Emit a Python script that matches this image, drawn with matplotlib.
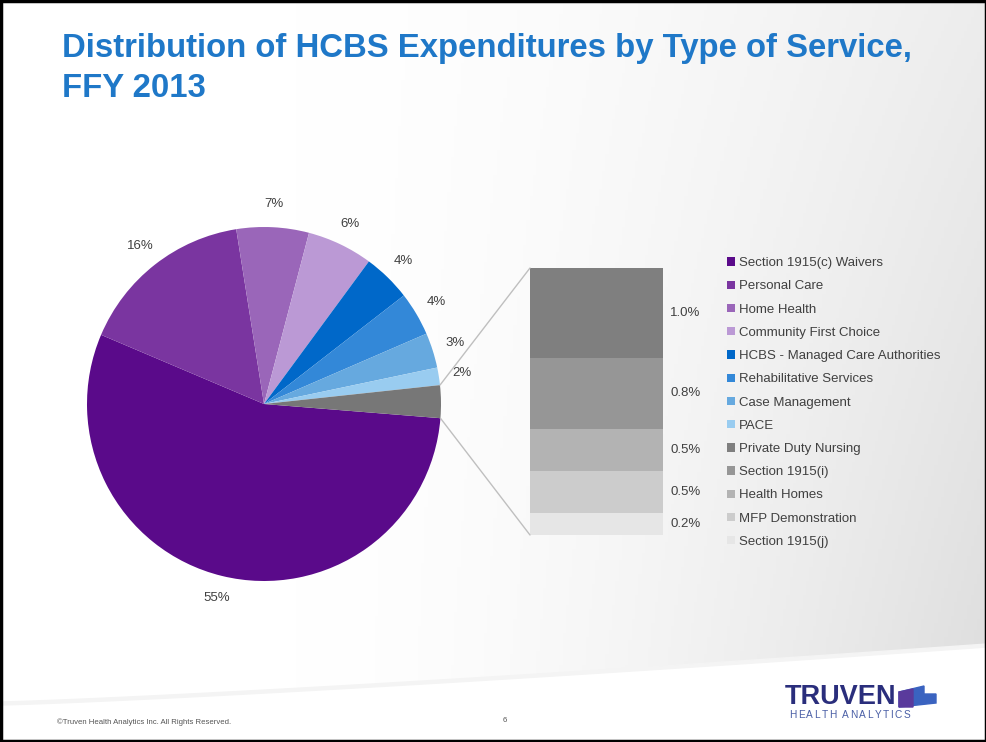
import numpy as np
import matplotlib
matplotlib.use("Agg")
import matplotlib.pyplot as plt
from matplotlib import patches
from matplotlib.patches import ConnectionPatch

plt.rcParams['font.family'] = ['Liberation Sans', 'DejaVu Sans']

# pie part (clockwise from the right edge); last wedge is the "other" group split out into the bar
pie_names = ['Section 1915(c) Waivers', 'Personal Care', 'Home Health', 'Community First Choice',
             'HCBS - Managed Care Authorities', 'Rehabilitative Services', 'Case Management', 'PACE']
pie_values = [55.1, 16.1, 6.6, 6.0, 4.4, 4.0, 3.2, 1.6]
pie_colors = ['#5a0a8a', '#7a35a0', '#9a66b9', '#bb99d5', '#0068c9', '#3388d8', '#66a9df', '#99ccf0']
other_color = '#777777'

# bar part, top to bottom
bar_names = ['Private Duty Nursing', 'Section 1915(i)', 'Health Homes', 'MFP Demonstration', 'Section 1915(j)']
bar_values = [1.0, 0.8, 0.47, 0.47, 0.24]
bar_colors = ['#7f7f7f', '#969696', '#b3b3b3', '#cccccc', '#e6e6e6']

txt = '#404040'
W, H = 987, 742
fig = plt.figure(figsize=(W / 100, H / 100), dpi=100)
fig.patch.set_facecolor('white')

# slide background: soft grey shading on the right and a white sweep at the bottom
bg = fig.add_axes([0, 0, 1, 1], zorder=-10)
bg.set_xlim(0, W)
bg.set_ylim(H, 0)
bg.axis('off')
gx, gy = np.meshgrid(np.linspace(0, 1, 300), np.linspace(0, 1, 200))
shade = np.clip((gx - 0.3) / 0.7, 0, 1) ** 1.6 * (0.55 + 0.45 * gy)
img = np.dstack([1 - shade * 0.13] * 3)
bg.imshow(img, extent=[0, W, 700, 0], aspect='auto', zorder=0)
sx = np.linspace(0, W, 100)
sy = 705 - 58 * (sx / W) ** 1.2
bg.fill_between(sx, sy, H, color='white', zorder=1)
bg.fill_between(sx, sy - 3, sy, color='#f4f4f4', zorder=1)
bg.add_patch(patches.Rectangle((1, 1), W - 2, H - 2, fill=False, edgecolor='black', lw=2.5, zorder=5))

# title
fig.text(62 / W, 1 - 33 / H, 'Distribution of HCBS Expenditures by Type of Service,\nFFY 2013',
         ha='left', va='top', fontsize=23.7, fontweight='bold', color='#1f78c8', linespacing=1.36)

# pie
cx, cy, R = 264, 404, 177
half = 1.25 * R
ax = fig.add_axes([(cx - half) / W, (H - cy - half) / H, 2 * half / W, 2 * half / H])
values = pie_values + [sum(bar_values)]
colors = pie_colors + [other_color]
wedges, _, autotexts = ax.pie(values, colors=colors, startangle=-4.6, counterclock=False,
                              autopct='%.0f%%', pctdistance=1.13,
                              textprops=dict(color=txt, fontsize=9.5))
autotexts[-1].set_visible(False)
ax.set_xlim(-1.25, 1.25)
ax.set_ylim(-1.25, 1.25)
ax.set_aspect('equal')

# bar of the split-out group
bx0, bx1, by0, by1 = 530, 663, 268, 535
bax = fig.add_axes([bx0 / W, (H - by1) / H, (bx1 - bx0) / W, (by1 - by0) / H])
total = sum(bar_values)
bottom = total
bar_handles = []
for name, v, c in zip(bar_names, bar_values, bar_colors):
    bottom -= v
    b = bax.bar(0.5, v, width=1.0, bottom=bottom, color=c, edgecolor='none', label=name)
    bar_handles.append(b[0])
    bax.text(1.17, bottom + v / 2, f'{v:.1f}%', ha='center', va='center', color=txt,
             fontsize=9.5, clip_on=False)
bax.set_xlim(0, 1)
bax.set_ylim(0, total)
bax.axis('off')

# connector lines from the grey wedge to the bar
w = wedges[-1]
for ang, yb in [(w.theta2, total), (w.theta1, 0)]:
    p = (np.cos(np.radians(ang)), np.sin(np.radians(ang)))
    con = ConnectionPatch(xyA=p, coordsA=ax.transData, xyB=(0, yb), coordsB=bax.transData,
                          color='#bfbfbf', lw=1)
    fig.add_artist(con)

# legend
handles = list(wedges[:-1]) + bar_handles
names = pie_names + bar_names
fig.legend(handles, names, loc='upper left', bbox_to_anchor=(722 / W, 1 - 252 / H), frameon=False,
           fontsize=9.5, labelcolor=txt, handlelength=0.6, handleheight=0.6, handletextpad=0.3,
           labelspacing=0.85, borderaxespad=0)

# footer
fig.text(57 / W, 1 - 722 / H, '\u00a9Truven Health Analytics Inc. All Rights Reserved.',
         fontsize=5.6, color='#555555', va='center', ha='left')
fig.text(505 / W, 1 - 720 / H, '6', fontsize=5.6, color='#555555', va='center', ha='center')

# logo
fig.text(785 / W, 1 - 697 / H, 'TRUVEN', fontsize=19.5, fontweight='bold', color='#2a2e7c',
         va='center', ha='left')
r = fig.canvas.get_renderer()
xpos = 789
for ch in 'HEALTH ANALYTICS':
    if ch == ' ':
        xpos += 4
        continue
    t = fig.text(xpos / W, 1 - 715 / H, ch, fontsize=7.3, color='#4a5fa6', va='center', ha='left')
    xpos += t.get_window_extent(r).width + 1.5
bg.add_patch(patches.Polygon([(899, 692), (924, 686), (924, 694), (936, 694), (936, 703), (899, 707)],
                             closed=True, color='#3a63c0', zorder=3))
bg.add_patch(patches.Polygon([(899, 692), (913, 689), (913, 707), (899, 707)],
                             closed=True, color='#5a3a9c', zorder=4))

fig.savefig('out.png', dpi=100, facecolor='white')
